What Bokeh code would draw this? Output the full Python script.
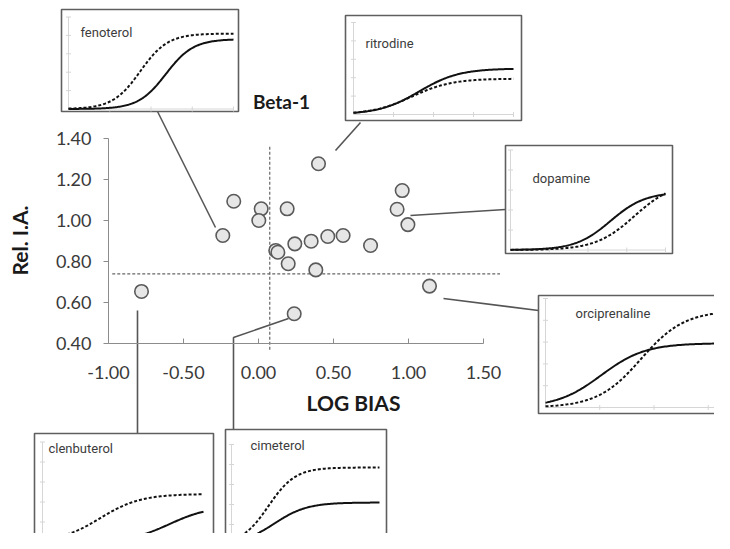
import numpy as np
from bokeh.plotting import figure
from bokeh.models import Range1d, LinearAxis, FixedTicker, NumeralTickFormatter
from bokeh.embed import file_html
from bokeh.resources import INLINE
from bokeh.core.properties import value

# ---------------- main scatter data ----------------
log_bias = [0.40, -0.165, 0.018, 0.002, 0.191, -0.238, 0.115, 0.129, 0.242, 0.351,
            0.462, 0.564, 0.198, 0.382, 0.747, 0.958, 0.924, 0.996, 1.14, -0.78, 0.238]
rel_ia = [1.277, 1.094, 1.057, 1.000, 1.057, 0.927, 0.854, 0.845, 0.886, 0.899,
          0.922, 0.927, 0.789, 0.759, 0.878, 1.146, 1.055, 0.980, 0.680, 0.654, 0.545]

ref_bias = 0.075          # vertical dashed reference line
ref_bias_extent = [0.37, 1.366]
ref_ia = 0.74             # horizontal dashed reference line
ref_ia_extent = [-0.975, 1.61]

x_ticks = [-1.0, -0.5, 0.0, 0.5, 1.0, 1.5]
y_ticks = [0.4, 0.6, 0.8, 1.0, 1.2, 1.4]

# ---------------- inset concentration-response curves ----------------
# (Emax, midpoint on inset log-conc axis 0..1, slope)
inset_names = ["fenoterol", "ritrodine", "dopamine", "orciprenaline", "clenbuterol", "cimeterol"]
solid_top = [0.76, 0.50, 0.58, 0.59, 0.36, 0.42]
solid_mid = [0.59, 0.41, 0.645, 0.256, 0.79, 0.29]
solid_k = [12, 8, 8.9, 9.8, 8, 9]
dash_top = [0.82, 0.39, 0.68, 0.89, 0.48, 0.77]
dash_mid = [0.435, 0.365, 0.80, 0.44, 0.36, 0.25]
dash_k = [12, 8, 8, 10, 8, 11]
conc = np.linspace(0, 1, 150)

# ---------------- layout (reference pixel coordinates) ----------------
W, H = 714, 533
OX, OY = 0, 0
boxes = [(61, 9, 238, 111), (345, 15, 521, 120), (505, 145, 672, 253),
         (538, 295, 762, 413), (34, 433, 213, 565), (225, 429, 386, 565)]
plot_areas = [(68, 233, 108.5, 92), (353, 513, 114, 92), (510, 665, 249.5, 100),
              (545, 762, 407, 109), (42, 203, 541.5, 100), (231, 379, 544, 100)]
label_pos = [(80, 32), (365, 43), (532, 178), (575, 313), (48, 448), (250, 445)]
leaders = [[(157, 111), (215, 227)],
           [(360, 122), (335, 150)],
           [(410, 215), (505, 209)],
           [(443, 298), (538, 310)],
           [(137, 310), (137, 433)],
           [(288, 318), (233, 337), (233, 429)]]

# mapping of main axes: x=(px-258)/150, y=1+(220-py)/205
def xv(px):
    return (px - 258) / 150.0

def yv(py):
    return 1 + (220 - py) / 205.0

p = figure(width=W, height=H, output_backend="svg", toolbar_location=None,
           x_range=Range1d(xv(OX), xv(OX + W)), y_range=Range1d(yv(OY + H), yv(OY)),
           x_axis_location=None, y_axis_location=None, min_border=0,
           outline_line_color=None, background_fill_color="white")
p.grid.grid_line_color = None

p.extra_x_ranges["px"] = Range1d(OX, OX + W)
p.extra_y_ranges["py"] = Range1d(OY + H, OY)
for i, (L, R, B, Hh) in enumerate(plot_areas):
    p.extra_x_ranges[f"ix{i}"] = Range1d((OX - L) / (R - L), (OX + W - L) / (R - L))
    p.extra_y_ranges[f"iy{i}"] = Range1d((B - (OY + H)) / Hh, (B - OY) / Hh)

# leader lines
for pts in leaders:
    p.line([q[0] for q in pts], [q[1] for q in pts], x_range_name="px", y_range_name="py",
           line_color="#555555", line_width=1.6)

# reference dashed lines
p.segment(x0=[ref_bias], x1=[ref_bias], y0=[ref_bias_extent[0]], y1=[ref_bias_extent[1]],
          line_color="#666666", line_width=1.2, line_dash="3 2")
p.segment(x0=[ref_ia_extent[0]], x1=[ref_ia_extent[1]], y0=[ref_ia], y1=[ref_ia],
          line_color="#666666", line_width=1.2, line_dash="3 2")

# axes
xaxis = LinearAxis(fixed_location=0.4, bounds=(-1.0, 1.5), ticker=FixedTicker(ticks=x_ticks),
                   formatter=NumeralTickFormatter(format="0.00"),
                   axis_line_color="#8c8c8c", major_tick_line_color="#8c8c8c",
                   major_tick_in=5, major_tick_out=0, minor_tick_line_color=None,
                   major_label_text_font="Lato", major_label_text_font_size="18px",
                   major_label_text_color="#3a3a3a", major_label_standoff=22)
p.add_layout(xaxis, "below")
yaxis = LinearAxis(fixed_location=-1.0, bounds=(0.4, 1.4), ticker=FixedTicker(ticks=y_ticks),
                   formatter=NumeralTickFormatter(format="0.00"),
                   axis_line_color="#8c8c8c", major_tick_line_color="#8c8c8c",
                   major_tick_in=0, major_tick_out=5, minor_tick_line_color=None,
                   major_label_text_font="Lato", major_label_text_font_size="18px",
                   major_label_text_color="#3a3a3a", major_label_standoff=12)
p.add_layout(yaxis, "left")

# scatter points
p.scatter(log_bias, rel_ia, size=13.5, fill_color="#e6e6e6", line_color="#5a5a5a", line_width=1.6)

# titles
p.text(x=[281], y=[101], text=["Beta-1"], x_range_name="px", y_range_name="py",
       text_font=value("Lato"), text_font_style="bold", text_font_size="19px",
       text_color="#1a1a1a", text_align="center", text_baseline="middle")
p.text(x=[353], y=[402], text=["LOG BIAS"], x_range_name="px", y_range_name="py",
       text_font=value("Lato"), text_font_style="bold", text_font_size="21px",
       text_color="#1a1a1a", text_align="center", text_baseline="middle")
p.text(x=[19], y=[240], text=["Rel. I.A."], x_range_name="px", y_range_name="py",
       angle=np.pi / 2, text_font=value("Lato"), text_font_style="bold", text_font_size="21px",
       text_color="#1a1a1a", text_align="center", text_baseline="middle")

# insets
def hill(x, top, mid, k):
    return top / (1 + np.exp(-k * (x - mid)))

for i, name in enumerate(inset_names):
    x0, y0, x1, y1 = boxes[i]
    p.quad(left=[x0], right=[x1], top=[y0], bottom=[y1], x_range_name="px", y_range_name="py",
           fill_color="white", line_color="#5f5f5f", line_width=1.6)
    xr, yr = f"ix{i}", f"iy{i}"
    # faint inner axes
    p.line([0, 0, 1], [1.0, 0, 0], x_range_name=xr, y_range_name=yr,
           line_color="#d6d6d6", line_width=1)
    p.scatter([0] * 5, [0.2, 0.4, 0.6, 0.8, 1.0], marker="dash", size=5, x_range_name=xr,
              y_range_name=yr, line_color="#d6d6d6")
    p.scatter([0.25, 0.5, 0.75, 1.0], [0] * 4, marker="dash", angle=np.pi / 2, size=5,
              x_range_name=xr, y_range_name=yr, line_color="#d6d6d6")
    p.line(conc, hill(conc, solid_top[i], solid_mid[i], solid_k[i]), x_range_name=xr,
           y_range_name=yr, line_color="#111111", line_width=2)
    p.line(conc, hill(conc, dash_top[i], dash_mid[i], dash_k[i]), x_range_name=xr,
           y_range_name=yr, line_color="#111111", line_width=2, line_dash="3 2")
    lx, ly = label_pos[i]
    p.text(x=[lx], y=[ly], text=[name], x_range_name="px", y_range_name="py",
           text_font=value("Roboto"), text_font_size="13px", text_color="#3c3c3c",
           text_align="left", text_baseline="middle")

open("out.html", "w").write(file_html(p, INLINE))
